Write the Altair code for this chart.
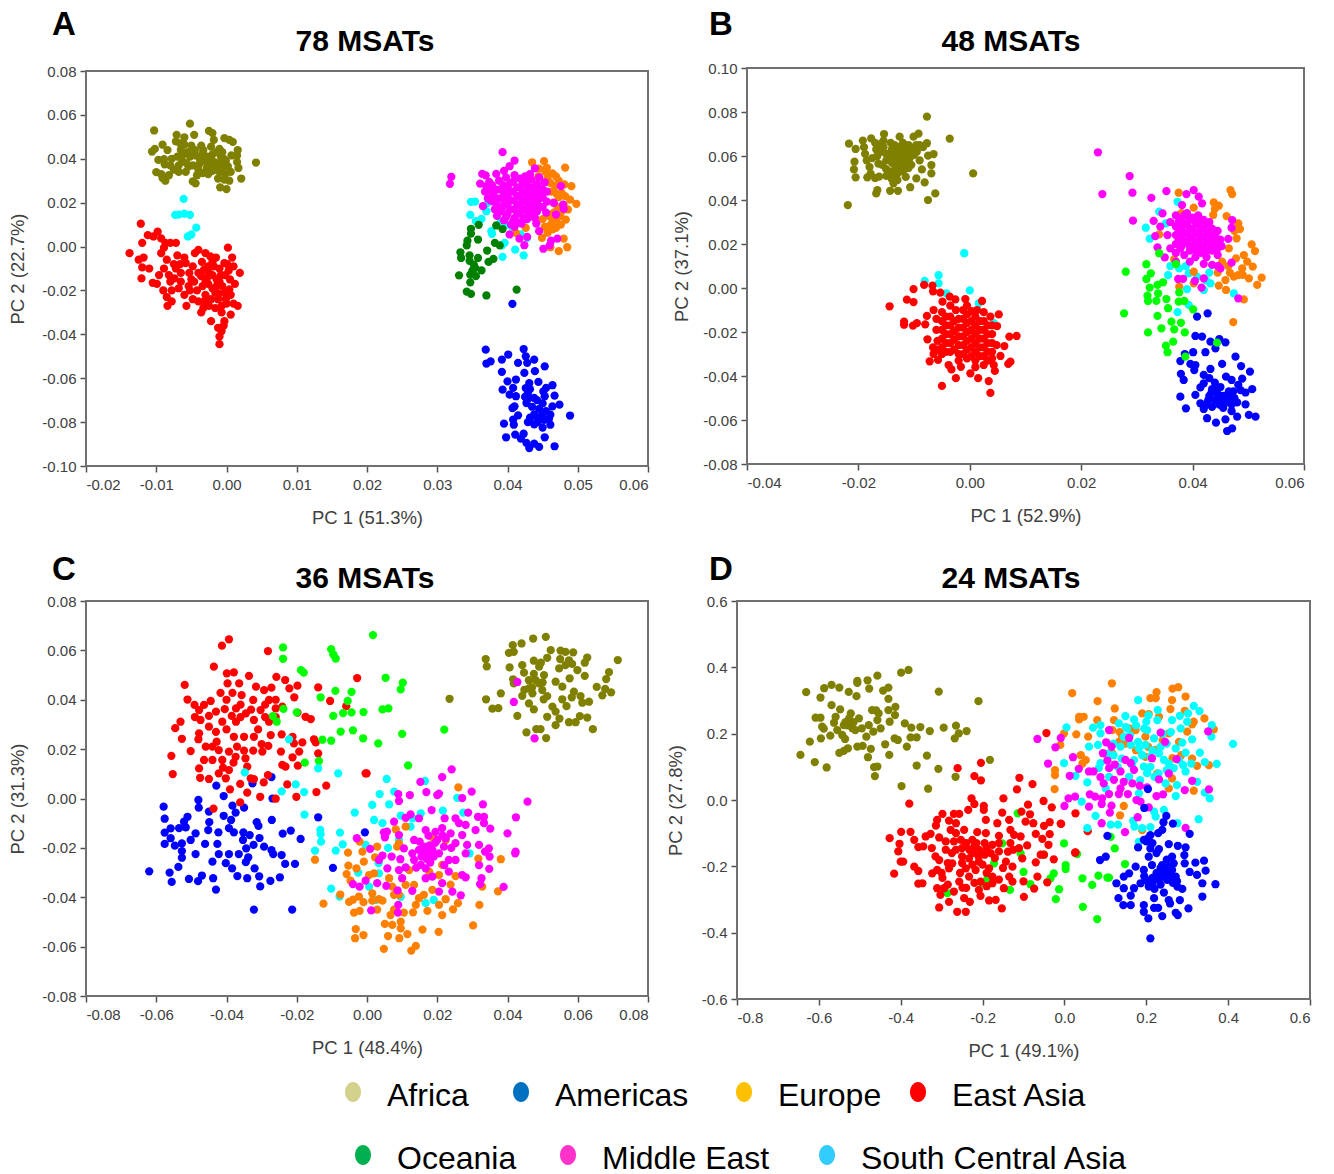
import altair as alt
import pandas as pd

# All scores are in thousandths of a PC unit (value / 1000 = score)
A_AFRICA = [(-10.3,52.9),(-5.2,56),(-2.5,52.7),(-2,51.7),(-7.1,50.9),(-4.6,50.9),(-6,49.8),(-.3,49.4),(.4,48.6),(.9,47.7),(-1.8,48.6),(-7.2,47.9),(-9.1,46.4),(-10.2,44.5),(-10.6,43.3),(-8.4,44),(1.6,44),(-1,44.5),(4.2,38.3),(2.1,31),(0,26.2),(-.9,27),(-4.4,28.8),(-4.8,29.7),(-8.7,30),(-9.1,31.2),(-10,33.9),(-9.7,39.5),(-8.9,39.8),(-9.3,33),(-8.2,32.5),(-7.5,35),(-6.8,37),(-7,41),(-6.5,44),(-6,46.5),(-6.3,39),(-5.8,34),(-5.2,41),(-4.5,44),(-4.8,37),(-4,35),(-3.6,46),(-3.4,42.5),(-3,39),(-2.8,36),(-2.6,33),(-2.2,45.5),(-2,42),(-1.7,38.5),(-1.5,35),(-1.2,31),(-.8,41),(-.5,36),(-.2,33),(-.1,39),(.4,30),(.6,34),(.7,41.5),(1.5,38.5),(1.7,35.8),(1.5,41.5),(-5.5,43),(-3.8,40),(-2.4,40.5),(-1,38),(-4.2,32.5),(-5.4,36.5),(-8,37),(-8.8,37.5),(-.6,43)]
A_AFRICA += [(-6.6,47),(-6.2,42),(-5.7,38),(-5,46),(-4.4,41.5),(-3.9,37.5),(-3.3,44),(-2.8,41),(-2.3,37.5),(-1.4,43),(-1,34),(-.4,40),(.2,36.5),(-6.8,34),(-7.8,40),(-3.4,33.5),(-2,34.5),(-.3,30.5)]
A_AMERICAS = [(40.7,-26.1),(36.9,-47),(40.1,-49.2),(39.2,-51.5),(42.3,-46.7),(37.6,-52.3),(37,-53.3),(41.5,-53),(42.6,-50),(43.8,-51.5),(42.8,-53),(45.3,-54.6),(39.2,-57.1),(42.4,-57.6),(43.9,-56.8),(44.4,-61.7),(40,-61.4),(41.2,-60.6),(43.1,-62.2),(46.4,-63.2),(45.5,-64.4),(39.3,-65.2),(40.8,-64.4),(40.3,-67.5),(41.2,-68.2),(42.9,-66.7),(46.7,-67.9),(45.3,-68.2),(43.8,-69),(42.7,-71.3),(41,-72.8),(40.7,-73.6),(47.4,-72),(46.4,-72.8),(44.5,-74),(43.8,-76.5),(48.9,-77),(46.1,-76.6),(44.9,-77),(41.5,-76.9),(40.8,-78.9),(39.5,-80.7),(40.9,-81.2),(42.9,-80),(43.8,-81),(46.1,-81.2),(45,-82.5),(39.8,-86.9),(41.1,-85.7),(42.3,-85.3),(41.9,-87.5),(42.7,-89.5),(43.1,-91.8),(43.8,-89.8),(44.5,-91.3),(45.3,-86.9),(46.7,-91),(43,-69),(42.5,-68.5),(44.2,-70),(45,-71.5),(43.5,-73),(45.5,-75),(44.2,-78),(43.2,-78),(45.2,-79),(44.3,-80),(45.9,-78.5),(42.6,-64.5),(43.2,-65),(45.1,-66)]
A_EUROPE = [(43.5,38.4),(45.2,38.9),(45.6,35.9),(48.2,36),(46.4,33.3),(45.7,31.3),(49.1,27.5),(48.1,28.3),(48.9,21.4),(49.8,19.5),(48.6,16.9),(48.3,12.3),(47.6,10),(46.4,7.8),(45.7,6.2),(44.9,4),(48,3.6),(48.5,-.3),(47.3,-2.1),(46.1,-.3),(41.2,6.2),(42.6,8.5),(45,12.5),(46.4,12),(47.1,18),(47.3,22.5),(46.8,27.5),(46.1,29),(44.4,32),(47.5,14),(46,9.5),(47,24),(45.4,34),(48,19),(46.5,20)]
A_EUROPE += [(47.7,24.5),(47.3,30),(46.9,32),(48.2,23),(47,11),(45.3,9),(46.9,8.5),(44.5,35.5),(46.2,25),(46.6,15.5),(47.7,16),(45.9,14)]
A_EAST_ASIA = [(-12.2,10.4),(-11.2,5.2),(-10.4,4.6),(-9.8,6.8),(-12,1.7),(-9.3,3.7),(-8.7,1.7),(-8,1.7),(-7.2,1.7),(-13.8,-3),(-12.5,-6),(-11.8,-5),(-12,-9.5),(-12.1,-14.5),(-11,-10),(-10.5,-16.5),(-9.9,-17),(-9.3,-3),(-8.9,-.5),(-8.5,-6),(-8.9,-10),(-8.2,-13),(-9,-20),(-8.5,-23),(-7.8,-25),(-8.4,-27),(-8,-16),(-7.5,-8),(-7,-4),(-6.8,-19),(-6.5,-12),(-6,-5),(-6,-22),(-5.7,-27),(-5,-15),(-4.8,-9),(-4.5,-3),(-4,-1.5),(-4,-12),(-4.2,-20),(-4,-25),(-3.6,-30),(-3,-3),(-3,-16),(-3,-22),(-2.6,-9),(-2.5,-27),(-2.2,-34),(-2,-13),(-2,-19),(-1.5,-5),(-1.2,-24),(-1,-10),(-1,-16),(-.7,-30),(-.4,-36),(-.2,-21),(-.2,-13),(.2,-.5),(.8,-5),(1,-9),(1.2,-17),(.5,-15),(1.9,-12),(.4,-19.5),(1,-26),(0,-26),(1.6,-27),(.6,-31),(-.7,-38.5),(-1,-41),(-1,-44.5),(-.3,-34),(-1.2,-37),(-6.5,-16),(-5.4,-18),(-3.5,-7),(-2,-7),(-5.3,-12),(-3.6,-13.5),(-2.5,-12),(-1.6,-21),(-.6,-18),(-2.6,-17),(-7.4,-14.5),(.1,-8)]
A_EAST_ASIA += [(-7.2,-10),(-5.8,-7.5),(-5.2,-20),(-4.6,-16),(-4.8,-24),(-3.4,-18),(-3.2,-10.5),(-3.2,-25),(-2.8,-14.5),(-2.3,-4.5),(-2.2,-24),(-1.8,-9),(-1.4,-15),(-1.4,-18),(-1.1,-21.5),(-.8,-13),(-.7,-27),(-.3,-7.5),(-.1,-24),(.3,-11),(.6,-22),(-1.6,-28),(-3.3,-28),(-6.6,-8),(-7.8,-20),(-9.6,-13)]
A_OCEANIA = [(35.9,9.9),(34.8,8.1),(34.8,5.9),(34.3,2.7),(34.2,.5),(35.8,3.2),(38.4,9.6),(39.3,8),(38.2,1.7),(38.9,.5),(37.1,-1.8),(33.3,-2.6),(33.4,-5.2),(34.6,-4),(35.8,-5.2),(38,-5.6),(37.3,-7),(35.2,-8.2),(35.4,-9.7),(36.3,-10.8),(33.1,-13.1),(34.7,-12.8),(35.5,-13.5),(34.7,-16.3),(34.2,-20.5),(34.8,-21.6),(37,-22.3),(41.3,-19.6),(34.6,-6.5),(35,-11)]
A_MIDDLE_EAST = [(39.3,43),(41,39.2),(40.3,36.6),(31.8,28.6),(32,31.8),(36.4,33.1),(36.9,32.4),(38.4,33.1),(36.1,28.7),(43.9,35.6),(47.6,27.5),(45.3,29.3),(46.6,19.9),(47.9,19.1),(48,17.2),(46.9,14.6),(36.5,18.4),(44.1,10.5),(44.5,7),(40.3,5.5),(41.7,3.6),(42.8,4.4),(42.4,.6),(45.1,-1),(46,.5),(47.1,3.6),(46.2,2.7),(39.5,34.5),(41,32.5),(42.5,32),(37,27.5),(36.8,25),(37.2,22),(37.8,28),(38,24),(38,20.5),(38.2,17),(38.5,14),(38.8,30),(39,26),(39,22),(39.3,18),(39.5,12),(39.8,31.5),(40,27),(40,23),(40,19.5),(40,15),(40.5,10),(40.8,29.5),(40.8,25),(41,21),(41,17),(41,13),(41,9),(41.8,31),(41.8,27),(41.8,23),(41.8,19),(41.8,15),(42,10.5),(42.6,29),(42.6,25),(42.6,21),(42.6,17),(42.8,12.5),(43.4,30.5),(43.4,27),(43.4,23),(43.4,19),(43.5,15),(44.2,28.5),(44.2,24),(44.2,20),(44.2,16),(45,26),(45,22.5),(45,18),(45.6,25),(45.6,20.5),(45.5,15.5),(44.5,31.5),(43.2,33)]
A_MIDDLE_EAST += [(37.4,29.5),(37.5,25.5),(37.6,21),(38.4,26),(38.4,22),(38.6,18.5),(39,16),(39.4,28),(39.5,24),(39.6,20.5),(39.8,13.5),(40.4,29),(40.4,25),(40.4,21),(40.4,17),(40.8,11.5),(41.4,27),(41.4,23),(41.4,19),(41.4,15),(41.5,11),(42.2,29),(42.2,25),(42.2,21),(42.2,17),(42.3,13),(43,27),(43,23),(43,19),(43,15),(43.8,25),(43.8,21),(43.8,17),(43.9,13),(44.6,26.5),(44.6,22),(44.6,18)]
A_SOUTH_CENTRAL_ASIA = [(-6.1,21.7),(-7.3,14.4),(-6.8,14.6),(-6,15),(-5.2,14.4),(-5.5,4.6),(-5,5.5),(-4.3,8.6),(34.8,20.4),(35.4,20.5),(34.7,14.4),(36.3,12.6),(35.5,11.6),(37.4,29),(37.2,19.9),(37,16.1),(39.1,11.6),(37.8,5.8),(37.7,7),(39.6,1.7),(39.2,.5),(41.1,-1.4),(42.3,-4),(39.3,-4.7),(40.8,8.5),(41.9,5.5),(42.8,4),(40,10)]

B_AFRICA = [(-7.7,77.9),(-3.6,67.9),(.6,52.1),(-21.9,37.7),(-21.7,65.6),(-20.5,63.2),(-19.2,67),(-17.7,68),(-15.4,70),(-12.6,68.8),(-10.1,68.8),(-9.2,70.2),(-7.7,65.8),(-6.5,60.9),(-7.5,60.2),(-6.9,55.9),(-6.9,52.1),(-8.6,53.9),(-8.1,48),(-9.6,49.8),(-10.7,45.8),(-6.2,43),(-7.5,40),(-12.9,44.2),(-14.3,44.2),(-16.6,44.5),(-16.8,43),(-20.5,50.3),(-20.8,53.9),(-20.7,57.4),(-18.4,50.3),(-16.3,50.6),(-13.7,47.6),(-19,64),(-18.8,61),(-18.5,58),(-18,55),(-17.8,52),(-17,66),(-16.8,63),(-16.6,60),(-16.4,56.5),(-15.5,67),(-15.5,64),(-15,61),(-15,58),(-15,54),(-15,51),(-14.2,66),(-14,63),(-14,60),(-14,57),(-14,53),(-14,49.5),(-13,64),(-13,61),(-13,58),(-13,55),(-13,52),(-13,49),(-12,66),(-12,62),(-12,59),(-12,56),(-12,53),(-11.5,50.5),(-11,65),(-10.8,62),(-10.8,59),(-10.5,56),(-9.6,65),(-9.5,62),(-9,58)]
B_AFRICA += [(-17.5,59),(-16,65.5),(-15.8,62),(-15.7,56),(-14.6,59),(-14.5,52),(-13.5,65),(-13.5,62),(-13.5,59),(-13.5,56),(-13.5,51),(-12.5,64),(-12.5,60.5),(-12.5,57.5),(-12.5,54),(-11.5,63.5),(-11.5,60),(-11.3,57),(-11,54.5),(-10,63.5),(-10,60.5),(-9,65),(-8.4,64),(-17,50)]
B_AMERICAS = [(40.8,-13),(42.7,-11.5),(40.5,-21.8),(41.7,-22.1),(43.2,-24.4),(44.8,-23.2),(45.9,-24.7),(44.1,-27.4),(42.3,-29.2),(40.1,-29.2),(38.6,-30),(37.8,-33.2),(39.6,-34.5),(40.5,-35),(40.3,-37.3),(43.2,-36.8),(45.3,-34.5),(47.7,-31.2),(48.7,-35.5),(50.3,-38),(37.9,-39),(38.4,-41.8),(42,-39.5),(42,-43.3),(41.4,-45.2),(46,-40.3),(48.9,-41.2),(47,-41.8),(50.7,-46),(48.6,-46.4),(37.8,-49.4),(40.5,-48.6),(38.8,-54.7),(41.4,-52.4),(42.6,-59.2),(44.2,-61.2),(45.9,-59.7),(48,-58.5),(50.1,-57.7),(51.3,-58.5),(46.2,-65),(47.1,-63.8),(49.5,-52.9),(43,-41),(44,-43),(45,-45),(43.5,-46),(44.5,-48),(43,-49),(45.5,-49),(46.5,-47),(47.5,-50),(44,-51),(45.5,-52),(47,-53),(48,-52),(42.5,-53),(43.5,-54),(42,-55),(47,-56),(45.5,-54.5),(48.2,-44),(49.5,-47.5)]
B_AMERICAS += [(44.3,-45.5),(43.4,-47.5),(44.6,-50),(42.8,-51),(46,-50.5),(46.5,-52),(44.8,-53),(46.6,-49),(47.3,-47)]
B_EUROPE = [(37.5,43.3),(46.8,44.5),(47.1,42.7),(40.2,36.5),(43.8,38.9),(44.7,37.4),(43.7,33.2),(46.1,32.7),(48.2,29.4),(48.5,26.8),(47.9,22.6),(50.6,19.8),(51.2,16.8),(49.2,15),(49.8,12),(50.8,9.7),(48.9,8.9),(52.4,4.7),(50.1,4.4),(51.6,1.4),(48.2,5.9),(47.4,5.2),(45.9,3.6),(44.7,1.1),(46,-.9),(49.2,-5.2),(47.3,-15.5),(37.6,.6),(40.2,7.4),(45.3,12),(46.5,18),(47.8,13.5),(34,24.4),(36.7,13),(40.2,2.1),(44,36),(47.5,26),(46.7,7),(49,6),(46.4,10),(38,34),(44.5,7)]
B_EAST_ASIA = [(-14.4,-8.3),(-11.3,-5.3),(-10.1,-6.4),(-10.1,-.5),(-8.2,1.4),(-6.7,1.1),(-6.6,-1.5),(-5.3,-2.1),(-4.9,-6.2),(-3.6,-3.9),(-2.6,-5.2),(-.8,-5),(2.2,-5.9),(1.3,-10),(5.2,-12),(3.7,-13),(-11.8,-15.3),(-11.8,-16.7),(-10.2,-17.1),(-9.5,-16),(-8,-16.5),(-7.7,-12.7),(-6.5,-10),(4.9,-17.3),(7.1,-22.1),(8.4,-21.8),(6.2,-26.4),(5.5,-30.9),(7.3,-33.5),(6.9,-34.5),(4.8,-26),(-7.6,-23.3),(-6.6,-27),(-7.2,-33.3),(-5.7,-32.7),(-3.8,-35),(-3.3,-37),(-2.5,-41),(-5,-44.5),(-1.6,-35.8),(.1,-38.8),(1.5,-41),(3.4,-42.3),(3.7,-47.7),(4.5,-37.7),(4.3,-35),(-5,-11),(-5,-15),(-5,-19),(-5,-23),(-5,-27),(-5,-30),(-3.5,-8),(-3.5,-13),(-3.5,-17),(-3.5,-21),(-3.5,-25),(-3.5,-29),(-2.5,-10),(-2,-14),(-2,-18),(-2,-22),(-2,-26),(-2,-30),(-2,-33),(-.5,-8),(-.5,-12),(-.5,-16),(-.5,-20),(-.5,-24),(-.5,-28),(-.5,-32),(1,-13),(1,-17),(1,-21),(1,-25),(1,-29),(1,-33),(1,-36),(2.5,-11),(2.5,-15),(2.5,-19),(2.5,-23),(2.5,-27),(2.5,-31),(2.5,-35),(4,-17),(4,-21),(4,-25),(4,-29),(4,-32),(-6,-19),(-6,-14),(-6.5,-30)]
B_EAST_ASIA += [(-4.3,-13),(-4.3,-17),(-4.3,-21),(-4.3,-25),(-4.3,-29),(-2.8,-15),(-2.8,-19.5),(-2.8,-23.5),(-2.8,-28),(-1.2,-10),(-1.2,-14),(-1.2,-18),(-1.2,-22),(-1.2,-26),(-1.2,-30),(.3,-10.5),(.3,-15),(.3,-19),(.3,-23),(.3,-27),(.3,-31),(1.8,-15),(1.8,-19),(1.8,-23),(1.8,-27),(1.8,-31),(3.2,-17),(3.2,-21),(3.2,-25),(3.2,-29),(3.2,-33),(-5.8,-24),(-6,-28)]
B_OCEANIA = [(28,7.4),(27.7,-11.5),(31.7,10.8),(32.5,6.7),(31.7,4.1),(32.3,.2),(33.7,1.4),(34.7,2.6),(31.9,-3.5),(32,-5.9),(33.8,-2.4),(33.5,-5.8),(35.3,-5),(37.6,-2),(37.5,-6.2),(38.5,-5.9),(35.6,-9.2),(40.1,-9.7),(33.7,-12.7),(36.2,-15.3),(37.9,-15.8),(34.4,-18.3),(36.7,-18.8),(38.6,-20.2),(32,-20.2),(36.5,-24.4),(35.2,-26.2),(35.5,-29.2),(38.7,-31.2),(44.4,-24.8),(34,15.8),(37,10.9)]
B_MIDDLE_EAST = [(23,61.7),(28.7,50.9),(23.8,42.7),(29.2,43.3),(32.6,41),(35.3,44),(38.9,42.7),(40.2,44.5),(41.1,41.5),(41.7,38.5),(38.1,37.7),(29.3,30.6),(33,30.5),(34.2,27.9),(33.3,23.6),(33.7,18.5),(35,13.9),(34.6,33.9),(47.1,30.9),(47,27.4),(46.4,22.3),(45.2,19),(47,11.5),(45,8.9),(37.4,4.1),(38.3,4.2),(40.4,3.2),(41.6,.2),(42,4.4),(48.2,-4.7),(43.5,10.5),(35.5,24),(36,18),(36,30),(37,33),(37,28),(37,24),(37,20),(37,16),(37,12),(38,31),(38,27),(38,23),(38,19),(38.5,15),(39,34),(39,29),(39,25),(39,21),(39.5,17),(39.5,12),(40,32),(40,27),(40,23),(40,19),(40.5,14),(41,33),(41,29),(41,25),(41,21),(41.5,16),(42,11),(42,31),(42,27),(42,23),(42,19),(42.5,14),(43,30),(43,25),(43,21),(43.5,17),(44,24),(44,20),(44.5,15),(45,22),(44.5,10)]
B_MIDDLE_EAST += [(37.5,30),(37.5,26),(37.5,22),(37.8,18),(38.5,33),(38.5,29),(38.5,25),(38.5,21),(39.5,31),(39.5,27),(39.5,23),(39.5,19),(40.5,30),(40.5,25),(40.5,21),(40.5,17),(41.5,31),(41.5,27),(41.5,23),(41.5,19),(42.5,29),(42.5,25),(42.5,21),(42.5,17),(43.5,27),(43.5,23),(43.5,19),(44.5,26),(44.5,22),(44.5,18)]
B_SOUTH_CENTRAL_ASIA = [(-1,15.8),(-5.6,5.8),(-5.6,2.1),(-8.1,3.2),(0,-1.1),(-4.2,-2.4),(1.6,-7),(4.3,-16),(34,34.7),(31.6,27.4),(32.3,22.4),(37.3,39.2),(35.2,29.4),(35.6,5.9),(36,10),(37.6,8.9),(39,-.5),(39.3,-7.7),(37.3,-11),(42,-.9),(43.2,2.1),(40.8,5.2),(47.4,-2.4),(39.3,6.7),(42.4,3.5),(38.8,10),(43,7)]

C_AFRICA = [(50.9,65.5),(47.3,64.8),(44,62.8),(41.5,62.1),(40.4,59),(41.8,59.4),(33.8,56.5),(34.1,53.5),(40.6,53.1),(23.5,40.4),(71.4,56.1),(68.9,51.2),(68.1,48.4),(65.4,45.2),(67.8,44.4),(67,41.8),(69.5,43),(64.3,28.1),(62.7,32.8),(60.6,33.4),(59.4,30.9),(57.5,30.9),(51,24.5),(45.4,26.8),(48.2,28.1),(49.4,28.1),(42.8,33.5),(35.7,36.4),(37.4,36.6),(33.9,40.2),(38.1,42.6),(41.8,46.6),(41.6,48.3),(44.2,54),(44.7,51),(47.5,55.8),(52.3,60.1),(51.3,57),(55.1,59.9),(56.5,59.4),(58.7,59.2),(62.7,57.1),(62,55),(57.5,56),(58.4,54.5),(59.9,52),(62,49.7),(57.7,48.7),(54.7,52.7),(50.4,50),(49,53.4),(46.1,47.9),(49,46.6),(53.7,47.3),(55.6,45.3),(58.9,43.3),(60.8,41.5),(63.2,39.2),(61.3,38.8),(58.3,41),(55.6,40.2),(56.8,37.4),(51.3,41.5),(50.3,40.2),(47.1,42.6),(44.2,41.6),(46.1,38.5),(47.5,36.1),(52.8,37.2),(53.7,35.2),(51.3,33.1),(54.8,32.4),(53.7,29.7),(46.1,44.6),(49.9,43.9),(47.5,50.5),(48,48),(50,47),(47,45),(44.8,44),(56.5,54),(55,56.5),(49.5,55)]
C_AMERICAS = [(-57.9,-3.3),(-48,-.6),(-47.9,-3.7),(-57.6,-8.2),(-42.9,5.2),(-40.8,1),(-32.6,6.1),(-27.2,8.7),(-26.9,0),(-38.3,-2.9),(-35,-3.7),(-45,-5.3),(-40.8,-7),(-37.4,-5.7),(-51.1,-7.4),(-52.1,-9.4),(-38.7,-8.7),(-31.4,-9.6),(-30.9,-11.1),(-27.1,-8.7),(-44.9,-9.6),(-45.2,-12.8),(-55.9,-12.1),(-57.6,-13.8),(-53.5,-12),(-51.6,-11.7),(-42.3,-13.7),(-39.3,-12),(-37.9,-13.7),(-35.2,-13.7),(-33.4,-14.8),(-30.6,-16),(-24,-14.2),(-21.7,-13),(-18.9,-16.4),(-48.8,-14.1),(-50.2,-16.8),(-55.9,-16.1),(-57.6,-18.4),(-54.7,-19.1),(-52.7,-18.2),(-46.1,-18.4),(-42.6,-18.4),(-35.3,-16.8),(-34.4,-20.2),(-32.3,-18.8),(-29.3,-19.5),(-27.2,-20.9),(-52.7,-21.3),(-52.7,-24),(-48.8,-22.5),(-42.2,-22.5),(-39.3,-22.5),(-36.5,-22.5),(-33.8,-23.8),(-26.7,-22.5),(-24.3,-22.9),(-44,-25.6),(-40.2,-26.2),(-34.5,-25.8),(-23.3,-26.5),(-20.5,-26.5),(-53.7,-27.7),(-62,-29.5),(-56.2,-30),(-55.6,-33.8),(-50.7,-32.6),(-48.1,-33.5),(-47,-31.2),(-43.8,-32.3),(-43,-36.9),(-38.4,-28.3),(-36.9,-31.4),(-34.1,-32.3),(-32,-28.3),(-30.7,-31.5),(-27.5,-33.4),(-24.8,-31.9),(-30.4,-35.6),(-32.2,-45),(-21.3,-45),(-13.9,-7.6),(-9.7,-28.1),(-.6,-13.7)]
C_EUROPE = [(26,4.5),(-5.4,-21.9),(-14.8,-24.8),(-12.4,-42.6),(-7.6,-38.9),(-5.3,-27.2),(-5.8,-30.6),(-3,-28.3),(-.9,-25.6),(-4.7,-33.3),(-2.1,-17.5),(-1.3,-21.5),(2.9,-19.5),(2.3,-23.8),(8.2,-12.5),(11,-11.4),(8.6,-19.5),(-5.1,-41.9),(-2.3,-39.7),(-3.7,-46.2),(-2.1,-45.5),(-3.2,-52.9),(-3.4,-56.6),(-1,-55.3),(4.4,-41.4),(1.5,-38.4),(1.5,-41.4),(2.9,-45),(5.1,-50.8),(7.2,-51.2),(9.6,-49.9),(9.6,-52.6),(6,-55.7),(9.2,-56.6),(11.5,-54.9),(4.8,-60.9),(12.6,-61.6),(13.9,-59.7),(15.8,-53.1),(20.4,-54),(30.2,-51.4),(21.4,-47.2),(17.2,-45.5),(13.9,-43.1),(13.1,-46.1),(10.5,-46.2),(6.7,-47.2),(7.7,-45),(24.5,-44.9),(25.9,-42.4),(20.5,-43.1),(22.4,-40.8),(32,-43.1),(37.3,-37.6),(32.8,-35.7),(31.7,-24.4),(38.1,-24.6),(25.2,-31.4),(23.8,-34.9),(18.6,-37),(16.2,-39),(14.8,-40.4),(13.4,-35),(11,-35),(7.7,-39),(6.3,-32.3),(2,-30.3),(.6,-31),(18.6,-15.6),(22.4,-16.8),(21.4,-26.9),(20.5,-31),(17.7,-29.6),(9.1,-18.2),(12,-29),(7.2,-35.7),(9.1,-39),(3.4,-40.8),(-4,-41),(-1,-42)]
C_EAST_ASIA = [(-39.3,64.5),(-41.3,61.9),(-28.2,59.7),(-43.6,53.4),(-39.9,50.7),(-37.9,51.1),(-33.6,49.7),(-25.8,49.3),(-23.3,48),(-51.9,46),(-39.7,46.6),(-36.4,46.6),(-31.6,45.3),(-27.2,44.9),(-29.3,43.9),(-19.8,45.7),(-22.1,44.6),(-20.7,41),(-13.9,45),(-2.8,48.8),(-10.5,39.5),(-5.9,37.4),(-41.7,42.8),(-38.3,42.8),(-51.1,40.1),(-49.1,37.9),(-44.5,39.5),(-46.4,37.9),(-35.7,41.9),(-32.4,39.9),(-27.9,39.9),(-40.5,36.2),(-43,35.2),(-47.8,35.8),(-37.3,36.5),(-34.5,34.5),(-30.3,35.8),(-26,36.5),(-24.1,37.2),(-19.8,34.8),(-17.5,33.1),(-16,32.2),(-47.4,31.8),(-53.1,31.1),(-54.6,28.5),(-45,29.1),(-41.2,31.1),(-37.3,31.1),(-32.2,31.8),(-27.9,31.1),(-47.8,26.4),(-43,27),(-37.9,25),(-35,25),(-32.2,25),(-27.4,25.7),(-24.3,26),(-48,24),(-52.7,24.2),(-42.8,23),(-21.2,25),(-20.8,22.3),(-18.4,22.7),(-15.1,24),(-14.6,22.7),(-45.9,21),(-50.2,19.2),(-55.7,17.3),(-42.2,19.6),(-39.3,19),(-35,19.4),(-32.4,19.4),(-29.8,19),(-28.1,21.3),(-24.5,19),(-19.3,19),(-13.9,18.3),(-46.4,15.6),(-44,15.6),(-41.2,15.6),(-37.4,16.9),(-34.6,16.3),(-21.2,16.7),(-24.1,13.6),(-23.2,12.9),(-19.7,13.3),(-34.1,12.9),(-47.8,12.2),(-55.3,9.9),(-47.5,8.4),(-45,7.9),(-42.2,10.2),(-39.3,11.5),(-40.2,8.2),(-33.1,8.2),(-32.2,7.8),(-28.2,9.5),(-29.4,6.5),(-36.1,5.9),(-39,3.7),(-34.1,2.4),(-30.4,.7),(-22.7,5.7),(-20.1,.7),(-14.4,2.6),(-11.6,5.2),(-26,-.1),(-36.1,-1.6),(-43.7,-4.1),(-.4,10.2),(-.1,10.2),(-38.5,33.5),(-36,33),(-33,36),(-29,33),(-31,28),(-40,28),(-37,21),(-38,14.5),(-41,12.5),(-44,21),(-49,33),(-45,33.5),(-29,38),(-26,40),(-26,33),(-30,22),(-36,38),(-40,40)]
C_OCEANIA = [(-23.9,61.2),(-23.9,56.6),(-18.8,52),(-18,51),(-10.2,60.5),(-9.6,58.4),(-8.9,56.7),(-9,43.6),(-13.2,41),(-4.4,43.2),(-5.5,39.5),(-6.8,34.6),(-4.4,34.9),(-1,35),(-9.6,33.5),(-23.8,36.3),(-20,34.9),(-26.8,33.4),(-25.7,31.1),(-7.5,27.1),(-4,27.6),(-1.1,24.4),(-12.7,23.8),(-10.2,23.4),(-17.7,14.5),(-13.7,15.2),(1.7,66.2),(5.3,48.9),(10.2,46.9),(9.6,44.2),(4.4,36.1),(6.1,36.5),(10,26.2),(22,27.9),(3.2,22.3),(11.7,13.4)]
C_MIDDLE_EAST = [(24.1,11.8),(21.4,8.7),(15.2,6.7),(16.9,2.6),(12.2,1.4),(8.9,1.8),(9.1,-1),(20,1.4),(20.5,2),(27.1,.2),(29.8,2.8),(33,-2.4),(45.7,-1.3),(42.4,-7.6),(40,-14.1),(42.3,-21.5),(42.2,-22.2),(35.1,-12.2),(33.3,-7.4),(31.6,-7.4),(28.8,-5.7),(25.2,-8),(22.1,-8),(18.4,-4.7),(14.8,-8),(12.4,-6.4),(11,-7.8),(7.7,-9.4),(4.8,-13.7),(5.7,-13.4),(-2.9,-16.1),(.9,-20.4),(5.1,-15.7),(9.1,-14.8),(13.4,-16.8),(16.7,-12.8),(21.4,-12),(23.8,-14.1),(27.1,-14.8),(30.9,-12.8),(33.3,-10),(31.9,-18.8),(28.5,-18.8),(25.2,-18.1),(20,-16.8),(34.7,-20.2),(34.9,-23.5),(33.6,-21.5),(31.9,-27),(34.8,-28.5),(32.6,-32.3),(32.2,-34.7),(38.9,-35.8),(28.1,-31.9),(27.1,-31),(26.7,-39.2),(24.3,-37.7),(21.4,-34.3),(18.6,-31.6),(20.5,-37.7),(16.7,-32.3),(12.9,-37.4),(8.7,-37.2),(10,-32.3),(5.5,-35.4),(2.9,-34.3),(-.4,-33.3),(-2.1,-35.7),(-4,-34.7),(8.9,-43.1),(8.8,-46.2),(1.2,-45.3),(5.8,-28.3),(9.1,-29),(11,-27.9),(3.4,-24.9),(4.4,-23.1),(7,-23.5),(9.5,-24.6),(10.5,-20.2),(12.9,-22.2),(15.3,-26.9),(17.6,-22.2),(20.5,-22.2),(23.3,-24.9),(23.3,-29.6),(25.2,-24.9),(18.6,-20.8),(16.2,-19.5),(14.8,-20.8),(16.7,-28.3),(13.4,-24.9),(21.9,-19.5),(28.1,-22.2),(26.2,-10),(28.1,-10.7),(22.4,-16.1),(42.8,47.2),(41.8,39.1),(47.7,24.4)]
C_MIDDLE_EAST += [(15.5,-23.5),(16.5,-21),(17,-24.5),(17.8,-19),(18,-26),(19,-23.5),(19.4,-18),(15,-17.5),(19.5,-13.5),(21.5,-15),(24,-20),(22,-27),(14,-28),(17.5,-15)]
C_SOUTH_CENTRAL_ASIA = [(-34.8,10.6),(-13.9,12.2),(-8.2,10.2),(-20.3,5.7),(-17.9,2.6),(-24.3,2.9),(-17.8,-6.5),(-3.5,-5.7),(-13.3,-12.7),(-13.2,-14.4),(-13.1,-17.5),(-14.8,-21.1),(-7.7,-13.8),(-6.9,-18.6),(-8.9,-21.1),(-10.2,-36.5),(-22.2,24),(5.6,7.9),(7.7,2.8),(16.5,7.1),(3.6,1.8),(1.5,-2.6),(6.3,-2.4),(2,-8.7),(4.4,-10),(9.6,-6.9),(15.3,-6),(21.6,-4.9),(25.7,.3),(27.4,-5.7),(12.4,-11.4),(-.4,-18.8),(-2.5,-30),(.6,-35.7),(3.3,-26.2),(3.4,-30.3),(9.6,-39.8),(19,-41.1),(16.7,-42.4),(29.2,-22.2),(2.5,-41.1),(-7.8,-39.7),(9.1,-16.8),(13,-8),(6,-20)]

D_AFRICA = [(-381,392),(-399,384),(-457,375),(-481,361),(-506,359),(-506,353),(-569,347),(-587,337),(-550,339),(-631,325),(-596,309),(-527,326),(-508,313),(-477,336),(-443,330),(-430,339),(-430,305),(-307,327),(-210,298),(-569,286),(-548,273),(-608,248),(-596,248),(-559,251),(-522,261),(-526,246),(-502,246),(-470,271),(-454,261),(-430,271),(-413,281),(-414,256),(-563,233),(-539,226),(-518,216),(-495,216),(-478,226),(-457,241),(-427,236),(-390,231),(-374,218),(-352,220),(-329,208),(-295,218),(-265,224),(-239,208),(-258,201),(-268,186),(-592,221),(-588,215),(-555,211),(-543,196),(-572,194),(-595,186),(-622,176),(-536,184),(-511,211),(-467,206),(-449,216),(-484,191),(-415,186),(-407,181),(-376,189),(-361,189),(-438,168),(-385,161),(-506,161),(-493,163),(-473,154),(-529,156),(-539,148),(-550,142),(-645,136),(-610,114),(-581,98),(-480,129),(-428,136),(-336,134),(-361,104),(-457,101),(-465,99),(-463,72),(-308,94),(-266,70),(-182,121),(-398,42),(-333,34),(-535,235),(-530,225),(-515,235),(-460,270)]
D_AMERICAS = [(249,-48),(242,-67),(265,-71),(239,-90),(229,-100),(306,-102),(210,-106),(194,-120),(180,-143),(200,-125),(205,-115),(105,-108),(255,-133),(277,-138),(296,-143),(210,-146),(231,-148),(206,-171),(214,-196),(263,-171),(293,-166),(294,-191),(320,-189),(341,-183),(101,-171),(87,-181),(174,-201),(194,-211),(158,-221),(145,-231),(127,-251),(145,-266),(170,-266),(186,-251),(206,-261),(239,-196),(255,-201),(247,-221),(227,-236),(272,-231),(306,-217),(324,-226),(345,-213),(337,-251),(369,-254),(276,-261),(288,-268),(243,-279),(219,-296),(162,-288),(132,-296),(144,-317),(162,-317),(194,-317),(194,-337),(219,-325),(229,-325),(255,-302),(258,-312),(282,-302),(337,-291),(303,-327),(272,-340),(277,-347),(239,-350),(205,-357),(210,-417),(206,-250),(200,-242),(231,-241),(251,-241),(263,-211),(267,-191),(204,33),(195,-24),(240,-215),(235,-225),(255,-225),(215,-250),(220,-268),(265,-250)]
D_AMERICAS += [(245,-205),(250,-235),(235,-205),(225,-220),(260,-235),(215,-235),(275,-245),(235,-255),(195,-230),(250,-180),(225,-160),(215,-130)]
D_EUROPE = [(116,352),(19,322),(81,298),(123,276),(264,336),(278,340),(225,325),(210,307),(223,307),(296,312),(263,301),(259,274),(190,261),(206,259),(231,251),(36,251),(47,251),(36,243),(80,241),(121,241),(294,269),(342,246),(316,236),(312,228),(365,213),(29,198),(-1,201),(-10,166),(58,191),(117,211),(141,191),(198,191),(255,201),(300,206),(40,135),(52,120),(44,110),(117,141),(133,175),(312,125),(324,103),(353,105),(-23,90),(-23,75),(-24,33),(316,28),(255,35),(263,65),(227,80),(198,130),(145,-18),(136,-46),(190,-91),(223,151),(174,211),(264,126),(160,215),(150,170),(175,150),(205,160),(240,180),(280,175),(285,135),(135,205),(100,140)]
D_EAST_ASIA = [(-261,96),(-204,112),(-220,72),(-204,59),(-110,67),(-78,48),(-116,32),(-44,202),(-379,-11),(-227,5),(-149,5),(-51,-3),(-89,-14),(-220,-12),(-197,-18),(-197,-30),(-235,-30),(-298,-42),(-270,-42),(-257,-42),(-152,-38),(-105,-35),(-31,-22),(-84,-43),(27,-40),(-311,-60),(-282,-62),(-192,-60),(-164,-70),(-135,-60),(-95,-65),(-76,-70),(-36,-67),(-8,-72),(-50,-78),(-314,-77),(-265,-70),(-399,-96),(-376,-96),(-339,-110),(-327,-102),(-278,-90),(-245,-90),(-213,-97),(-192,-100),(-160,-108),(-132,-90),(-123,-105),(-107,-110),(-70,-102),(-36,-103),(-427,-115),(-403,-132),(-367,-120),(-306,-113),(-290,-125),(-253,-120),(-54,-117),(-39,-135),(-357,-142),(-345,-140),(-324,-145),(-290,-150),(-265,-150),(-241,-140),(-209,-150),(-176,-135),(-132,-130),(-91,-137),(-111,-145),(-406,-155),(-315,-170),(-205,-160),(-160,-155),(-138,-156),(-58,-165),(-50,-165),(-26,-179),(27,-158),(-394,-186),(-400,-186),(-306,-181),(-274,-191),(-233,-176),(-209,-186),(-143,-186),(-103,-176),(-70,-188),(-367,-201),(-357,-214),(-323,-221),(-311,-211),(-282,-206),(-241,-206),(-217,-211),(-184,-206),(-127,-201),(-66,-231),(-416,-222),(-298,-235),(-233,-231),(-176,-231),(-135,-231),(-357,-252),(-347,-251),(-257,-246),(-205,-246),(-176,-251),(-127,-246),(-100,-245),(-42,-248),(-74,-267),(-311,-266),(-294,-266),(-249,-264),(-209,-271),(-148,-266),(-303,-286),(-270,-276),(-205,-289),(-184,-303),(-168,-301),(-99,-292),(-245,-296),(-282,-307),(-306,-324),(-262,-337),(-241,-337),(-231,-307),(-153,-327),(-225,-120),(-225,-160),(-225,-195),(-195,-130),(-250,-170),(-270,-125),(-9,-71),(57,-94),(26,-159)]
D_EAST_ASIA += [(-240,-130),(-232,-150),(-215,-130),(-210,-170),(-195,-165),(-190,-145),(-180,-160),(-170,-175),(-160,-130),(-250,-145),(-220,-140),(-200,-195),(-190,-220),(-250,-190),(-275,-160),(-285,-190),(-255,-220),(-220,-250),(-190,-260),(-150,-205),(-160,-240),(-265,-100),(-300,-220),(-285,-255),(-240,-265),(-125,-150)]
D_OCEANIA = [(-114,-40),(-152,-131),(-172,-191),(-200,-251),(-188,-236),(-286,-281),(-107,-161),(-100,-217),(-83,-254),(-133,-271),(-1,-131),(31,-163),(3,-196),(3,-208),(-26,-221),(-34,-236),(-13,-269),(-21,-299),(44,-236),(68,-256),(83,-228),(105,-234),(109,-234),(123,-146),(148,-193),(45,-322),(80,-359),(113,-111),(-50,-165)]
D_MIDDLE_EAST = [(-66,184),(-9,187),(-22,159),(-40,110),(21,129),(13,73),(35,94),(60,86),(71,86),(88,69),(96,50),(109,211),(158,187),(102,174),(115,161),(94,141),(105,119),(109,96),(123,107),(149,121),(162,111),(170,91),(137,86),(121,61),(145,55),(166,50),(184,43),(202,38),(231,62),(255,80),(214,126),(235,203),(246,175),(274,123),(312,58),(351,207),(353,32),(294,30),(225,12),(241,17),(133,18),(137,35),(155,18),(109,18),(92,5),(91,-12),(75,10),(62,17),(26,10),(10,5),(0,-18),(60,-20),(115,-17),(111,-38),(91,-70),(179,-52),(148,-97),(296,-84),(176,0),(186,-5),(206,-22)]
D_SOUTH_CENTRAL_ASIA = [(180,301),(316,284),(330,268),(228,271),(282,254),(302,261),(300,236),(263,241),(200,236),(170,243),(149,253),(133,231),(5,219),(70,218),(88,226),(88,201),(153,216),(202,211),(227,241),(284,216),(360,226),(359,191),(412,169),(312,183),(288,173),(272,156),(219,186),(198,166),(182,156),(162,166),(137,161),(60,161),(82,166),(231,141),(243,121),(296,143),(331,143),(343,114),(372,109),(-1,111),(88,111),(84,96),(194,101),(202,81),(267,96),(296,86),(247,50),(324,55),(275,45),(101,35),(56,53),(27,73),(343,22),(355,5),(272,12),(42,-5),(182,20),(243,-30),(219,-35),(223,-50),(328,-58),(76,-48),(113,-74),(131,-74),(168,-63),(171,-80),(190,-85),(210,-82),(276,-70),(56,-85),(182,-126),(109,70),(158,70),(220,70),(210,130),(190,135),(170,120),(240,200),(160,195),(290,105),(255,110),(120,135)]
D_SOUTH_CENTRAL_ASIA += [(195,215),(180,175),(215,150),(250,170),(145,190),(120,170),(105,140),(140,125),(165,105),(210,100),(230,80),(185,60),(130,100),(250,90),(280,120),(310,110),(260,205),(205,255),(150,220),(175,225),(235,160)]

TICKS_A_X = [-0.02,-0.01,0,0.01,0.02,0.03,0.04,0.05,0.06]
TICKS_A_Y = [-0.10,-0.08,-0.06,-0.04,-0.02,0,0.02,0.04,0.06,0.08]
TICKS_B_X = [-0.04,-0.02,0,0.02,0.04,0.06]
TICKS_B_Y = [-0.08,-0.06,-0.04,-0.02,0,0.02,0.04,0.06,0.08,0.10]
TICKS_C = [-0.08,-0.06,-0.04,-0.02,0,0.02,0.04,0.06,0.08]
TICKS_D_X = [-0.8,-0.6,-0.4,-0.2,0,0.2,0.4,0.6]
TICKS_D_Y = [-0.6,-0.4,-0.2,0,0.2,0.4,0.6]

AFR, AME, EUR, EAS, OCE, MID, SCA = "#808000", "#0000ff", "#ff8000", "#ff0000", "#00ff00", "#ff00ff", "#00ffff"
DARK_GREEN = "#008000"
FONT = "Liberation Sans"
TEXT = "#404040"


def panel(layers, xdom, ydom, xticks, yticks, fmt, xtitle, ytitle, w, h, inset, letter, title, lpos, tpos, tpad, ypad, push_top=None):
    rows = []
    for pts, col in layers:
        rows += [{"x": a / 1000, "y": b / 1000, "c": col} for a, b in pts]
    df = pd.DataFrame(rows)
    lab = "replace(format(datum.value,'%s'),'−','-')" % fmt
    xscale = alt.Scale(domain=xdom, nice=False, zero=False)
    yscale = alt.Scale(domain=ydom, nice=False, zero=False, range=[h, inset])
    xaxis = alt.Axis(values=xticks, labelExpr=lab, title=xtitle, grid=False, domain=False, tickColor="#505050",
                     tickSize=6, tickWidth=1.5, labelColor=TEXT, labelFont=FONT, labelFontSize=15, titleFont=FONT,
                     titleFontSize=18.5, titleFontWeight="normal", titleColor=TEXT, labelPadding=5, titlePadding=tpad, labelOverlap=False)
    yaxis = alt.Axis(values=yticks, labelExpr=lab, title=ytitle, grid=False, domain=False, tickColor="#505050",
                     tickSize=6, tickWidth=1.5, labelColor=TEXT, labelFont=FONT, labelFontSize=15, titleFont=FONT,
                     titleFontSize=18.5, titleFontWeight="normal", titleColor=TEXT, labelPadding=4, titlePadding=ypad, labelOverlap=False)
    frame = alt.Chart(pd.DataFrame({"x0": [xdom[0]], "x1": [xdom[1]], "y0": [ydom[0]], "y1": [ydom[1]]})).mark_rect(
        fillOpacity=0, stroke="#707070", strokeWidth=2).encode(
        x=alt.X("x0:Q", scale=xscale, axis=xaxis), x2="x1:Q", y=alt.Y("y0:Q", scale=yscale, axis=yaxis), y2="y1:Q")
    pts = alt.Chart(df).mark_circle(size=68, opacity=1).encode(
        x=alt.X("x:Q", scale=xscale, axis=xaxis),
        y=alt.Y("y:Q", scale=yscale, axis=yaxis),
        color=alt.Color("c:N", scale=None),
        order=alt.Order("idx:Q"),
    ).transform_window(idx="row_number()")
    let = alt.Chart(pd.DataFrame({"t": [letter]})).mark_text(font=FONT, fontWeight="bold", fontSize=33, color="#000000").encode(
        text="t:N", x=alt.value(lpos[0]), y=alt.value(lpos[1]))
    tit = alt.Chart(pd.DataFrame({"t": [title]})).mark_text(font=FONT, fontWeight="bold", fontSize=30, color="#000000").encode(
        text="t:N", x=alt.value(tpos[0]), y=alt.value(tpos[1]))
    parts = [frame, pts, let, tit]
    if push_top is not None:
        parts.append(alt.Chart(pd.DataFrame({"t": [letter]})).mark_rule(opacity=0).encode(
            x=alt.value(0), y=alt.value(push_top), y2=alt.value(push_top + 5)))
    return alt.layer(*parts).properties(width=w, height=h)


A = panel([(A_AFRICA, AFR), (A_SOUTH_CENTRAL_ASIA, SCA), (A_EAST_ASIA, EAS), (A_OCEANIA, DARK_GREEN), (A_AMERICAS, AME), (A_EUROPE, EUR), (A_MIDDLE_EAST, MID)],
          [-0.02, 0.06], [-0.10, 0.08], TICKS_A_X, TICKS_A_Y, ".2f", "PC 1 (51.3%)", "PC 2 (22.7%)", 562, 398, 3, "A", "78 MSATs", (-22, -43), (279, -26), 16, 14)
B = panel([(B_AFRICA, AFR), (B_SOUTH_CENTRAL_ASIA, SCA), (B_EAST_ASIA, EAS), (B_AMERICAS, AME), (B_EUROPE, EUR), (B_MIDDLE_EAST, MID), (B_OCEANIA, OCE)],
          [-0.04, 0.06], [-0.08, 0.10], TICKS_B_X, TICKS_B_Y, ".2f", "PC 1 (52.9%)", "PC 2 (37.1%)", 557, 396, 0, "B", "48 MSATs", (-26, -43), (264, -26), 16, 11)
C = panel([(C_AFRICA, AFR), (C_AMERICAS, AME), (C_EAST_ASIA, EAS), (C_OCEANIA, OCE), (C_SOUTH_CENTRAL_ASIA, SCA), (C_EUROPE, EUR), (C_MIDDLE_EAST, MID)],
          [-0.08, 0.08], [-0.08, 0.08], TICKS_C, TICKS_C, ".2f", "PC 1 (48.4%)", "PC 2 (31.3%)", 562, 395, 0, "C", "36 MSATs", (-22, -31), (279, -22), 16, 14, -56)
D = panel([(D_AFRICA, AFR), (D_OCEANIA, OCE), (D_EAST_ASIA, EAS), (D_EUROPE, EUR), (D_SOUTH_CENTRAL_ASIA, SCA), (D_MIDDLE_EAST, MID), (D_AMERICAS, AME)],
          [-0.8, 0.6], [-0.6, 0.6], TICKS_D_X, TICKS_D_Y, ".1f", "PC 1 (49.1%)", "PC 2 (27.8%)", 573, 398, 0, "D", "24 MSATs", (-16, -31), (274, -22), 16, 16, -56)

LEGEND_LABELS = ["Africa", "Americas", "Europe", "East Asia", "Oceania", "Middle East", "South Central Asia"]
LEGEND_COLORS = ["#d2d28c", "#0070c0", "#ffc000", "#ff0000", "#00b050", "#ff33cc", "#33ccff"]
LEGEND_X = [267, 435, 658, 832, 277, 482, 741]
LEGEND_Y = [14, 14, 14, 14, 77, 77, 77]
ELLIPSE = "M -0.8 0 A 0.8 1 0 1 1 0.8 0 A 0.8 1 0 1 1 -0.8 0 Z"
legend_layers = []
for lab, col, lx, ly in zip(LEGEND_LABELS, LEGEND_COLORS, LEGEND_X, LEGEND_Y):
    d = pd.DataFrame({"t": [lab]})
    legend_layers.append(alt.Chart(d).mark_point(shape=ELLIPSE, filled=True, size=400, opacity=1, color=col, strokeWidth=0).encode(x=alt.value(lx), y=alt.value(ly)))
    legend_layers.append(alt.Chart(d).mark_text(font=FONT, fontSize=32, color="#000000", align="left", baseline="middle").encode(
        text="t:N", x=alt.value(lx + 34), y=alt.value(ly + 4)))
legend = alt.layer(*legend_layers).properties(width=1050, height=90)

chart = alt.vconcat(
    alt.hconcat(A, B, spacing=22),
    alt.hconcat(C, D, spacing=15),
    legend,
    spacing=17,
).configure_view(stroke="transparent").properties(background="#ffffff", padding=0)

chart.save("out.html", embed_options={"renderer": "svg", "actions": False})
